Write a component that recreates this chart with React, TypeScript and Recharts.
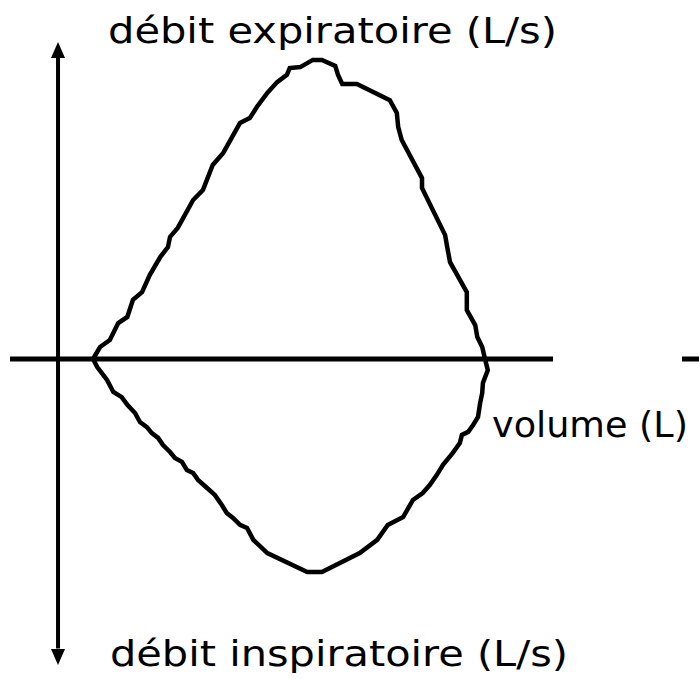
import React from "react";
import { LineChart, Line, XAxis, YAxis, ReferenceLine, ReferenceDot } from "recharts";

// boucle débit-volume : volume (L) / débit (L/s)
const expiratoire = [
  { v: 0.5, f: 0 }, { v: 0.6, f: 0.4 }, { v: 0.74, f: 0.63 }, { v: 0.86, f: 1.2 },
  { v: 0.99, f: 1.4 }, { v: 1.07, f: 1.97 }, { v: 1.2, f: 2.23 }, { v: 1.31, f: 2.8 },
  { v: 1.46, f: 3.4 }, { v: 1.57, f: 3.73 }, { v: 1.6, f: 4.07 }, { v: 1.71, f: 4.37 },
  { v: 1.93, f: 5.3 }, { v: 2.07, f: 5.63 }, { v: 2.21, f: 6.47 }, { v: 2.36, f: 6.87 },
  { v: 2.6, f: 7.87 }, { v: 2.74, f: 8.03 }, { v: 2.84, f: 8.4 }, { v: 2.99, f: 8.87 },
  { v: 3.13, f: 9.23 }, { v: 3.27, f: 9.47 }, { v: 3.31, f: 9.7 }, { v: 3.46, f: 9.73 },
  { v: 3.64, f: 9.97 }, { v: 3.77, f: 9.97 }, { v: 3.96, f: 9.77 }, { v: 4.0, f: 9.47 },
  { v: 4.06, f: 9.17 }, { v: 4.27, f: 9.17 }, { v: 4.74, f: 8.63 }, { v: 4.84, f: 8.2 },
  { v: 4.86, f: 7.73 }, { v: 4.91, f: 7.3 }, { v: 5.2, f: 6.03 }, { v: 5.2, f: 5.7 },
  { v: 5.53, f: 4.13 }, { v: 5.56, f: 3.73 }, { v: 5.6, f: 3.23 }, { v: 5.84, f: 2.23 },
  { v: 5.84, f: 1.63 }, { v: 5.96, f: 1.13 }, { v: 5.99, f: 0.73 }, { v: 6.06, f: 0.4 },
  { v: 6.1, f: 0 },
];

const inspiratoire = [
  { v: 0.5, f: 0 }, { v: 0.56, f: -0.27 }, { v: 0.7, f: -0.7 }, { v: 0.79, f: -1.1 },
  { v: 0.91, f: -1.27 }, { v: 0.99, f: -1.53 }, { v: 1.1, f: -1.8 }, { v: 1.17, f: -2.1 },
  { v: 1.27, f: -2.27 }, { v: 1.34, f: -2.47 }, { v: 1.43, f: -2.63 }, { v: 1.5, f: -2.87 },
  { v: 1.6, f: -3.1 }, { v: 1.67, f: -3.3 }, { v: 1.77, f: -3.43 }, { v: 1.84, f: -3.7 },
  { v: 1.93, f: -3.8 }, { v: 2.0, f: -4.03 }, { v: 2.13, f: -4.3 }, { v: 2.24, f: -4.53 },
  { v: 2.34, f: -4.87 }, { v: 2.41, f: -5.13 }, { v: 2.5, f: -5.3 }, { v: 2.6, f: -5.53 },
  { v: 2.7, f: -5.63 }, { v: 2.79, f: -6.03 }, { v: 2.99, f: -6.47 }, { v: 3.56, f: -7.1 },
  { v: 3.77, f: -7.1 }, { v: 4.31, f: -6.47 }, { v: 4.56, f: -6.03 }, { v: 4.71, f: -5.53 },
  { v: 4.93, f: -5.27 }, { v: 5.07, f: -4.7 }, { v: 5.21, f: -4.47 }, { v: 5.31, f: -4.2 },
  { v: 5.41, f: -3.87 }, { v: 5.5, f: -3.53 }, { v: 5.64, f: -3.13 }, { v: 5.74, f: -2.8 },
  { v: 5.77, f: -2.53 }, { v: 5.86, f: -2.43 }, { v: 5.93, f: -2.2 }, { v: 6.0, f: -1.93 },
  { v: 6.03, f: -1.47 }, { v: 6.06, f: -1.13 }, { v: 6.07, f: -0.8 }, { v: 6.14, f: -0.37 },
  { v: 6.1, f: 0 },
];

// bornes des axes dessinés
const X_DOMAIN = [-0.829, 9.157];
const Y_DOMAIN = [-10.667, 11.967];
const AXE_VOLUME = [-0.686, 7.071];
const TIRET_DROITE = [8.914, 9.157];
const AXE_DEBIT = [10.1, -9.65];
const FLECHES = [10.57, -10.2];

const LABELS = {
  haut: "débit expiratoire (L/s)",
  bas: "débit inspiratoire (L/s)",
  volume: "volume (L)",
};

const W = 699;
const H = 679;
const FONT = "'DejaVu Sans', sans-serif";

const Fleche = (dir: "up" | "down") => (props: { cx?: number; cy?: number }) => {
  const cx = props.cx ?? 0;
  const cy = props.cy ?? 0;
  const d = dir === "up" ? 16 : -16;
  return (
    <path
      d={`M${cx},${cy} L${cx - 7},${cy + d} L${cx + 7},${cy + d} Z`}
      fill="#000"
    />
  );
};

export default function App() {
  return (
    <div style={{ position: "relative", width: W, height: H, background: "#fff" }}>
      <style>{`body{margin:0;background:#fff}`}</style>
      <LineChart width={W} height={H} margin={{ top: 0, right: 0, bottom: 0, left: 0 }}>
        <XAxis type="number" dataKey="v" domain={X_DOMAIN} allowDataOverflow hide />
        <YAxis type="number" dataKey="f" domain={Y_DOMAIN} allowDataOverflow hide width={0} />
        <ReferenceLine
          segment={[{ x: AXE_VOLUME[0], y: 0 }, { x: AXE_VOLUME[1], y: 0 }]}
          stroke="#000"
          strokeWidth={5}
        />
        <ReferenceLine
          segment={[{ x: TIRET_DROITE[0], y: 0 }, { x: TIRET_DROITE[1], y: 0 }]}
          stroke="#000"
          strokeWidth={5}
        />
        <ReferenceLine
          segment={[{ x: 0, y: AXE_DEBIT[0] }, { x: 0, y: AXE_DEBIT[1] }]}
          stroke="#000"
          strokeWidth={4}
        />
        <ReferenceDot x={0} y={FLECHES[0]} r={0} shape={Fleche("up")} />
        <ReferenceDot x={0} y={FLECHES[1]} r={0} shape={Fleche("down")} />
        <Line
          data={expiratoire}
          dataKey="f"
          type="linear"
          stroke="#000"
          strokeWidth={4.5}
          dot={false}
          activeDot={false}
          isAnimationActive={false}
        />
        <Line
          data={inspiratoire}
          dataKey="f"
          type="linear"
          stroke="#000"
          strokeWidth={4.5}
          dot={false}
          activeDot={false}
          isAnimationActive={false}
        />
      </LineChart>
      <svg
        width={W}
        height={H}
        style={{ position: "absolute", left: 0, top: 0, pointerEvents: "none" }}
      >
        <text x={108} y={43} fontFamily={FONT} fontSize={36} textLength={449} lengthAdjust="spacingAndGlyphs" fill="#000">
          {LABELS.haut}
        </text>
        <text x={492} y={437} fontFamily={FONT} fontSize={36} textLength={196} lengthAdjust="spacingAndGlyphs" fill="#000">
          {LABELS.volume}
        </text>
        <text x={110} y={666} fontFamily={FONT} fontSize={36} textLength={458} lengthAdjust="spacingAndGlyphs" fill="#000">
          {LABELS.bas}
        </text>
      </svg>
    </div>
  );
}
